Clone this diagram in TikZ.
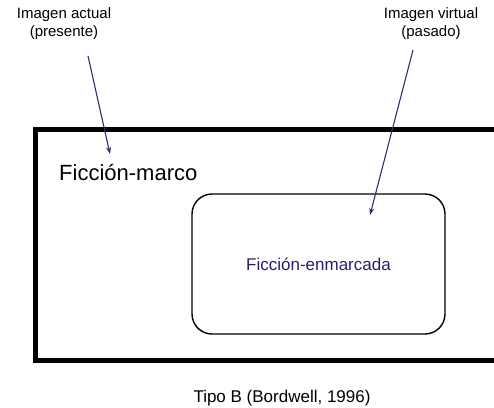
\documentclass[tikz,border=0pt]{standalone}
\usepackage{fontspec}
\setmainfont{Liberation Sans}
\usetikzlibrary{arrows.meta}
\definecolor{arrowblue}{RGB}{52,42,120}
\definecolor{textblue}{RGB}{40,30,110}
\begin{document}
\begin{tikzpicture}[x=1pt,y=-1pt,
  lbl/.style={align=center,font=\fontsize{15}{18}\selectfont,inner sep=0pt},
  pointer/.style={draw=arrowblue,line width=1.1pt,-{Stealth[length=7pt,width=5pt]}}]
\useasboundingbox (0,0) rectangle (494,407);
\clip (0,0) rectangle (494,407);
% outer frame
\draw[line width=5pt] (35,129) rectangle (520,360);
\node[anchor=west,inner sep=0pt,font=\fontsize{22}{26}\selectfont] (marco) at (59,173) {Ficción-marco};
% inner frame
\node[draw,line width=1.4pt,rounded corners=20pt,minimum width=253pt,minimum height=140pt,
      text=textblue,font=\fontsize{17}{20}\selectfont] (enm) at (318.5,264) {Ficción-enmarcada};
% labels
\node[lbl] (actual) at (64,24) {Imagen actual\\(presente)};
\node[lbl] (virtual) at (431,24) {Imagen virtual\\(pasado)};
\coordinate (a1) at (88,56);
\coordinate (a2) at (110,154);
\coordinate (v1) at (413,50);
\coordinate (v2) at (370,215);
\draw[pointer] (a1) -- (a2);
\draw[pointer] (v1) -- (v2);
% caption
\node[inner sep=0pt,font=\fontsize{17}{20}\selectfont] (cap) at (282,398) {Tipo B (Bordwell, 1996)};
\end{tikzpicture}
\end{document}
